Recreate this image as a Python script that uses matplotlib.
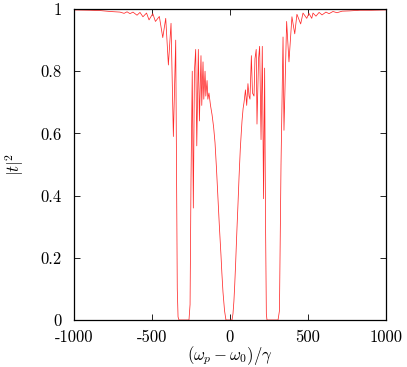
import numpy as np
import matplotlib
matplotlib.use('Agg')
import matplotlib.pyplot as plt

# curva |t|^2 (pontos aproximados)
x_det = [-1000, -897, -833, -769, -705, -679, -660, -641, -622, -596,
         -577, -558, -535, -519, -495, -478, -453, -431, -412, -395,
         -378, -363, -348, -343, -338, -333, -327, -295, -263, -256,
         -250, -242, -235, -228, -220, -213, -203, -196, -186, -181,
         -173, -168, -160, -155, -147, -142, -135, -125, -115, -105,
         -96, -87, -77, -68, -58, -52, -45, -35, -26, -6,
         13, 19, 25, 30, 36, 42, 46, 51, 58, 66,
         72, 77, 84, 90, 99, 107, 115, 122, 128, 137,
         144, 154, 160, 168, 173, 183, 190, 199, 207, 215,
         222, 228, 233, 237, 269, 308, 317, 327, 340, 346,
         363, 378, 397, 415, 429, 453, 468, 492, 506, 524,
         532, 551, 571, 590, 615, 635, 660, 686, 718, 769,
         833, 910, 1000]
t2 = [0.997, 0.996, 0.995, 0.992, 0.990, 0.986, 0.991, 0.985, 0.990, 0.980,
      0.989, 0.975, 0.987, 0.965, 0.985, 0.960, 0.976, 0.908, 0.970, 0.820,
      0.954, 0.590, 0.900, 0.500, 0.100, 0.010, 0.0, 0.0, 0.0, 0.05,
      0.45, 0.80, 0.36, 0.80, 0.87, 0.56, 0.87, 0.64, 0.85, 0.69,
      0.83, 0.71, 0.80, 0.72, 0.77, 0.71, 0.73, 0.69, 0.66, 0.62,
      0.57, 0.49, 0.39, 0.30, 0.21, 0.15, 0.09, 0.03, 0.0, 0.0,
      0.0, 0.02, 0.06, 0.11, 0.18, 0.26, 0.31, 0.37, 0.46, 0.55,
      0.60, 0.64, 0.68, 0.70, 0.74, 0.69, 0.76, 0.72, 0.71, 0.85,
      0.73, 0.72, 0.84, 0.87, 0.63, 0.84, 0.88, 0.58, 0.88, 0.39,
      0.81, 0.30, 0.02, 0.0, 0.0, 0.0, 0.03, 0.50, 0.91, 0.61,
      0.96, 0.83, 0.975, 0.92, 0.983, 0.952, 0.987, 0.970, 0.986, 0.970,
      0.987, 0.977, 0.989, 0.981, 0.990, 0.985, 0.992, 0.988, 0.993, 0.994,
      0.996, 0.996, 0.997]

xticks = [-1000, -500, 0, 500, 1000]
xtick_labels = ['-1000', '-500', '0', '500', '1000']
yticks = [0, 0.2, 0.4, 0.6, 0.8, 1]
ytick_labels = ['0', '0.2', '0.4', '0.6', '0.8', '1']

plt.rcParams['font.family'] = 'cmr10'
plt.rcParams['mathtext.fontset'] = 'cm'

fig = plt.figure(figsize=(4.07, 3.67), dpi=100)
ax = fig.add_axes([74/407, 47/367, 312/407, 311/367])

ax.plot(x_det, t2, color='#ff2a2a', lw=0.55)

ax.set_xlim(-1000, 1000)
ax.set_ylim(0, 1)
ax.set_xticks(xticks)
ax.set_xticklabels(xtick_labels)
ax.set_yticks(yticks)
ax.set_yticklabels(ytick_labels)
ax.tick_params(direction='in', top=True, right=True, length=4, width=0.6,
               labelsize=12)
ax.tick_params(axis='x', pad=7)
ax.tick_params(axis='y', pad=9)
for s in ax.spines.values():
    s.set_linewidth(0.9)

ax.set_xlabel(r'$(\omega_p-\omega_0)/\gamma$', fontsize=12, labelpad=-1)
ax.set_ylabel(r'$|t|^2$', fontsize=12, labelpad=10)

fig.savefig('out.png', dpi=100)
